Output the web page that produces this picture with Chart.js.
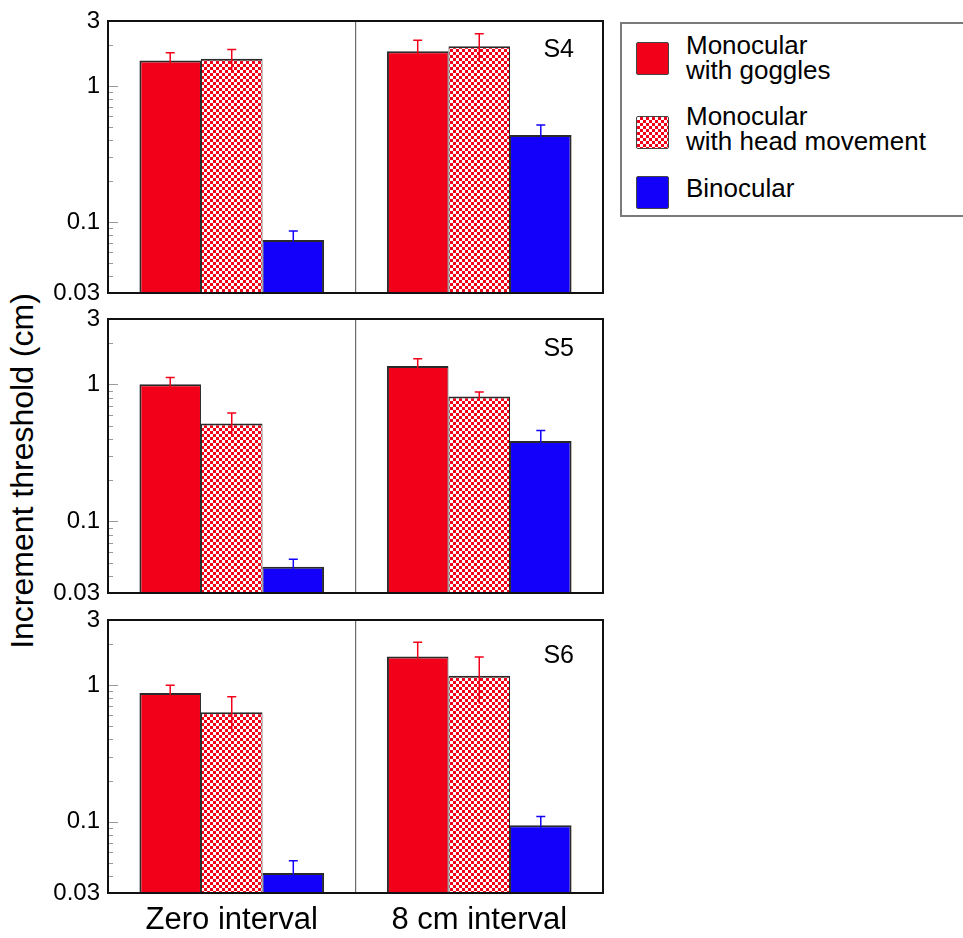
<!DOCTYPE html>
<html><head><meta charset="utf-8">
<script src="https://cdn.jsdelivr.net/npm/chart.js@4.4.1/dist/chart.umd.min.js"></script>
<style>
html,body{margin:0;padding:0;background:#fff;width:963px;height:938px;overflow:hidden;font-family:"Liberation Sans",Arial,Helvetica,sans-serif;}
canvas.pc{position:absolute;left:0;}
#ytitle{position:absolute;left:22px;top:471px;transform:translate(-50%,-50%) rotate(-90deg);font-size:32px;line-height:32px;white-space:nowrap;color:#000;}
#legend{position:absolute;left:620px;top:22px;width:360px;height:195px;border:2px solid #7a7a7a;box-sizing:border-box;}
.sw{position:absolute;left:14px;width:33px;height:33px;box-sizing:border-box;border:1.5px solid #444;border-radius:2px;}
.lt{position:absolute;left:64px;font-size:26px;line-height:25px;white-space:pre;color:#000;}
</style></head>
<body>
<div id="ytitle"></div>
<div id="legend"></div>
<script>
// ---- data ----
const categories = ['Zero interval', '8 cm interval'];
const subjects = ['S4', 'S5', 'S6'];
const seriesNames = ['Monocular\nwith goggles', 'Monocular\nwith head movement', 'Binocular'];
// values per subject: [zero interval, 8 cm interval]
const gogglesValues = [[1.54, 1.80], [1.00, 1.36], [0.874, 1.62]];
const gogglesErrors = [[0.21, 0.37], [0.12, 0.18], [0.126, 0.44]];
const headMoveValues = [[1.58, 1.96], [0.519, 0.817], [0.634, 1.17]];
const headMoveErrors = [[0.27, 0.46], [0.098, 0.062], [0.187, 0.44]];
const binocularValues = [[0.0736, 0.435], [0.0466, 0.386], [0.042, 0.094]];
const binocularErrors = [[0.012, 0.08], [0.0062, 0.075], [0.0097, 0.015]];
const yTicks = [3, 1, 0.1, 0.03];
const yMinorTicks = [2, 0.9, 0.8, 0.7, 0.6, 0.5, 0.4, 0.3, 0.2, 0.09, 0.08, 0.07, 0.06, 0.05, 0.04];
const yTitle = 'Increment threshold (cm)';

// ---- styles ----
const RED = '#f2001a', BLUE = '#1200fa';
const FONT = '"Liberation Sans", Arial, Helvetica, sans-serif';
function makePattern(){
  const c = document.createElement('canvas'); c.width = 6; c.height = 6;
  const g = c.getContext('2d');
  g.fillStyle = '#fff'; g.fillRect(0,0,6,6);
  g.fillStyle = RED; g.fillRect(0,0,3,3); g.fillRect(3,3,3,3);
  return g.createPattern(c, 'repeat');
}
const fills = [RED, makePattern(), BLUE];
const errColors = [RED, RED, BLUE];
const borderW = [{top:2,left:2,right:1,bottom:0},{top:2,left:1,right:1,bottom:0},{top:2,left:1,right:2,bottom:0}];
const seriesValues = [gogglesValues, headMoveValues, binocularValues];
const seriesErrors = [gogglesErrors, headMoveErrors, binocularErrors];

const panelLayout = [
  {top:-5, height:324, padTop:26, padBottom:26, xHeight:0, labelDy:36, showX:false},
  {top:293, height:326, padTop:26, padBottom:26, xHeight:0, labelDy:37, showX:false},
  {top:594, height:344, padTop:26, padBottom:0, xHeight:45, labelDy:43, showX:true}
];

document.getElementById('ytitle').textContent = yTitle;

// legend (HTML)
const legend = document.getElementById('legend');
const swTops = [17.7, 92, 151.7], txTops = [8.5, 79.5, 151.5];
seriesNames.forEach((n,k)=>{
  const sw = document.createElement('div'); sw.className='sw'; sw.style.top = swTops[k]+'px';
  if (k===1) sw.style.background = 'repeating-conic-gradient('+RED+' 0 25%, #fff 0 50%) 0 0/6px 6px';
  else sw.style.background = k===0?RED:BLUE;
  legend.appendChild(sw);
  const t = document.createElement('div'); t.className='lt'; t.style.top = txTops[k]+'px'; t.textContent = n;
  legend.appendChild(t);
});

const panelPlugin = {
  id: 'panel',
  afterDatasetsDraw(chart){
    const ctx = chart.ctx, ys = chart.scales.y;
    chart.data.datasets.forEach((ds,i)=>{
      const meta = chart.getDatasetMeta(i);
      meta.data.forEach((bar,j)=>{
        const v = ds.data[j], e = ds.errors[j];
        const yt = ys.getPixelForValue(v+e);
        const yb = ys.getPixelForValue(Math.max(v-e, ys.min));
        ctx.save();
        ctx.strokeStyle = ds.errorColor; ctx.lineWidth = 1.5;
        ctx.beginPath();
        ctx.moveTo(bar.x, yb); ctx.lineTo(bar.x, yt);
        ctx.moveTo(bar.x-4.5, yt); ctx.lineTo(bar.x+4.5, yt);
        ctx.stroke(); ctx.restore();
      });
    });
  },
  afterDraw(chart, args, opts){
    const ctx = chart.ctx, ys = chart.scales.y;
    const {left, right, top, bottom} = chart.chartArea;
    ctx.save();
    ctx.strokeStyle = '#9a9a9a'; ctx.lineWidth = 1;
    ctx.beginPath();
    yMinorTicks.forEach(v=>{ const p = Math.round(ys.getPixelForValue(v))+0.5; ctx.moveTo(left, p); ctx.lineTo(left+5, p); });
    yTicks.forEach(v=>{ const p = Math.round(ys.getPixelForValue(v))+0.5; ctx.moveTo(left, p); ctx.lineTo(left+10, p); });
    ctx.stroke();
    ctx.strokeStyle = '#111'; ctx.lineWidth = 2;
    ctx.strokeRect(left, top, right-left, bottom-top);
    ctx.fillStyle = '#000'; ctx.font = '25px ' + FONT;
    ctx.textAlign = 'right'; ctx.textBaseline = 'alphabetic';
    ctx.fillText(opts.subject, right-29, top+opts.labelDy);
    ctx.restore();
  }
};

panelLayout.forEach((L,p)=>{
  const cv = document.createElement('canvas');
  cv.className = 'pc'; cv.width = 620; cv.height = L.height;
  cv.style.top = L.top+'px'; cv.style.width='620px'; cv.style.height=L.height+'px';
  document.body.appendChild(cv);
  new Chart(cv, {
    type: 'bar',
    data: {
      labels: categories,
      datasets: seriesNames.map((name,k)=>({
        label: name,
        data: seriesValues[k][p],
        errors: seriesErrors[k][p],
        errorColor: errColors[k],
        backgroundColor: fills[k],
        borderColor: '#2a2a2a',
        borderWidth: borderW[k],
        barPercentage: 1.0,
        categoryPercentage: 0.746
      }))
    },
    options: {
      responsive: false, animation: false, devicePixelRatio: 1,
      layout: {padding: {top: L.padTop, bottom: L.padBottom, left: 0, right: 17}},
      plugins: {legend: {display:false}, tooltip: {enabled:false},
        panel: {subject: subjects[p], labelDy: L.labelDy}},
      scales: {
        x: {
          type: 'category', offset: true,
          grid: {offset: true, color: '#6a6a6a', lineWidth: 1.2, drawTicks: false},
          border: {display: false},
          ticks: {display: L.showX, font: {size: 31, family: FONT}, color: '#000', padding: 9, maxRotation: 0},
          afterFit: s => { s.height = L.xHeight; }
        },
        y: {
          type: 'logarithmic', min: 0.03, max: 3,
          grid: {display: false, drawTicks: false},
          border: {display: false},
          afterBuildTicks: s => { s.ticks = yTicks.map(v=>({value:v})); },
          afterFit: s => { s.width = 108; },
          ticks: {autoSkip: false, padding: 8, color: '#000', font: {size: 24, family: FONT},
            callback: v => String(v)}
        }
      }
    },
    plugins: [panelPlugin]
  });
});
</script>
</body></html>
